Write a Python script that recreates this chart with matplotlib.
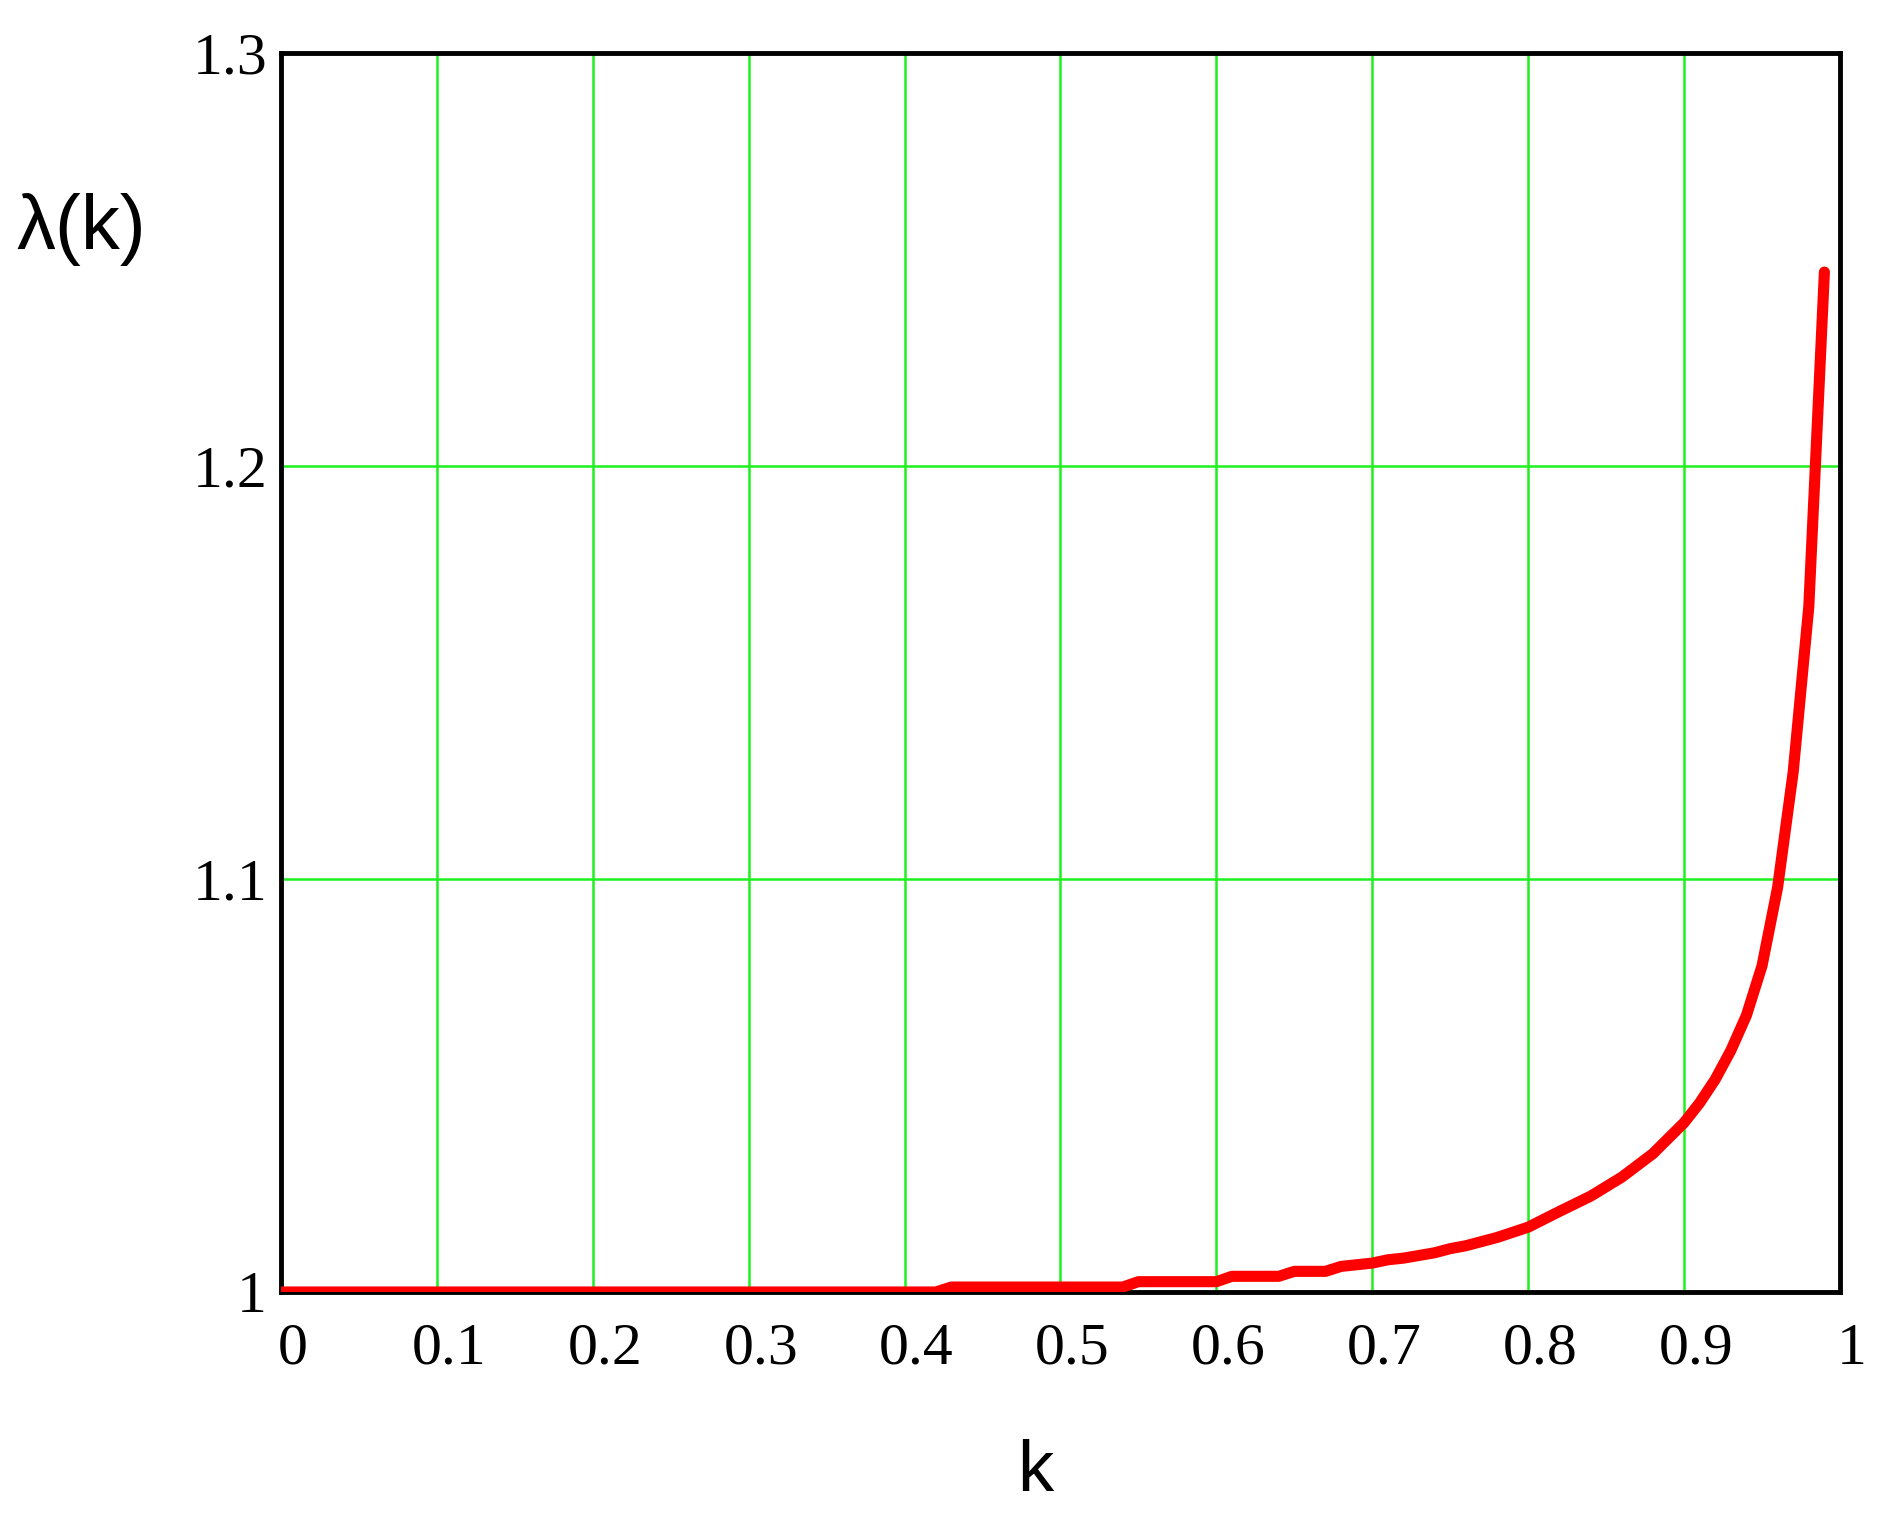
import matplotlib
matplotlib.use("Agg")
import matplotlib.pyplot as plt
import matplotlib.transforms as mtransforms

# lambda(k) (flat steps come from the original's pixel rounding)
k_vals = [0.00, 0.42, 0.43, 0.54, 0.55, 0.60, 0.61, 0.64, 0.65, 0.67, 0.68,
          0.70, 0.71, 0.72, 0.74, 0.75, 0.76, 0.78, 0.80, 0.82, 0.84, 0.86,
          0.88, 0.90, 0.91, 0.92, 0.93, 0.94, 0.95, 0.96, 0.97, 0.975, 0.98, 0.99]
lam_vals = [1.000, 1.000, 1.0012, 1.0012, 1.0025, 1.0025, 1.0038, 1.0038, 1.005, 1.005, 1.0062,
            1.0070, 1.0078, 1.0082, 1.0095, 1.0105, 1.0112, 1.0132, 1.0157, 1.0195, 1.0232, 1.0278,
            1.0335, 1.041, 1.0458, 1.0515, 1.0585, 1.067, 1.079, 1.098, 1.126, 1.146, 1.166, 1.247]

x_ticks = [0, 0.1, 0.2, 0.3, 0.4, 0.5, 0.6, 0.7, 0.8, 0.9, 1]
x_labels = ["0", "0.1", "0.2", "0.3", "0.4", "0.5", "0.6", "0.7", "0.8", "0.9", "1"]
y_ticks = [1.0, 1.1, 1.2, 1.3]
y_labels = ["1", "1.1", "1.2", "1.3"]

fig = plt.figure(figsize=(18.93, 15.2), dpi=100)
ax = fig.add_axes([0.1484, 0.15, 0.8236, 0.815])

ax.plot(k_vals, lam_vals, color="#ff0000", linewidth=8, solid_capstyle="round", zorder=3)

ax.set_xlim(0, 1)
ax.set_ylim(1.0, 1.3)
ax.set_xticks(x_ticks)
ax.set_yticks(y_ticks)
ax.set_xticklabels(x_labels, family="Liberation Serif", fontsize=43)
ax.set_yticklabels(y_labels, family="Liberation Serif", fontsize=43)
ax.tick_params(axis="both", length=0)
ax.tick_params(axis="x", pad=22)
ax.tick_params(axis="y", pad=10)

# shift x labels a bit to the right like the original
offset = mtransforms.ScaledTranslation(0.12, 0, fig.dpi_scale_trans)
for lbl in ax.get_xticklabels():
    lbl.set_transform(lbl.get_transform() + offset)

ax.grid(True, color="#1ff01f", linewidth=1.8)
ax.set_axisbelow(True)
for sp in ax.spines.values():
    sp.set_linewidth(3.5)
    sp.set_color("black")

fig.text(0.043, 0.849, "λ(k)", family="Liberation Sans", fontsize=56, ha="center", va="center")
fig.text(0.547, 0.031, "k", family="Liberation Sans", fontsize=52, ha="center", va="center")

fig.savefig("out.png", dpi=100, facecolor="white")
